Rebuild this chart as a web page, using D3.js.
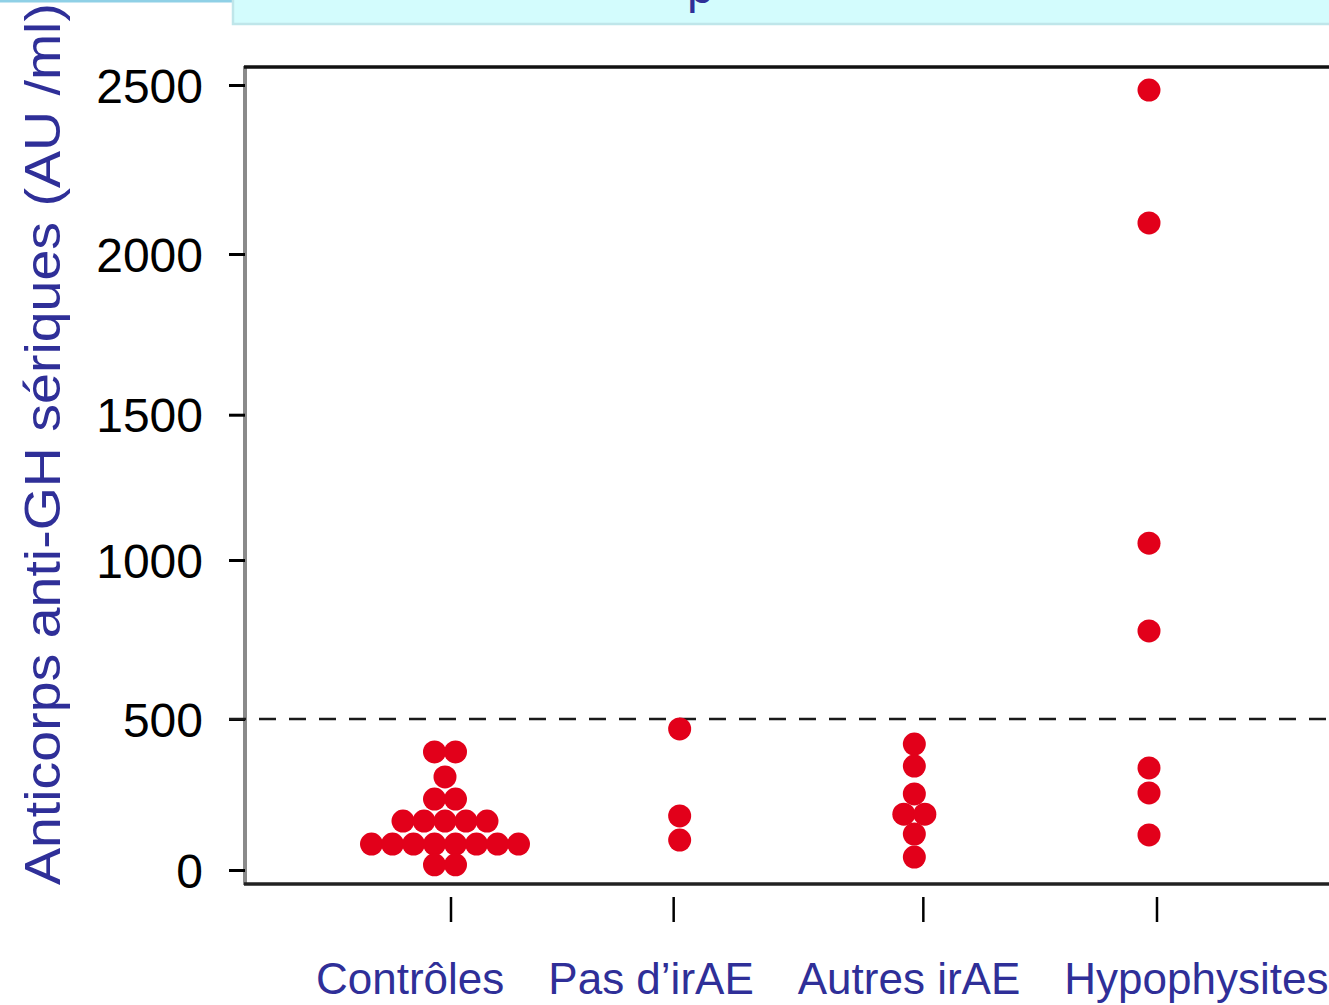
<!DOCTYPE html>
<html>
<head>
<meta charset="utf-8">
<script src="https://cdn.jsdelivr.net/npm/d3@7"></script>
<style>
  html, body { margin: 0; padding: 0; background: #fff; overflow: hidden; }
  svg { display: block; }
  text { font-family: "Liberation Sans", Arial, sans-serif; }
</style>
</head>
<body>
<svg id="chart" width="1329" height="1005"></svg>
<script>
// ---- data ----
const categories = ["Contrôles", "Pas d’irAE", "Autres irAE", "Hypophysites"];
const controlValues = [391, 391, 308, 235, 235, 162, 162, 162, 162, 162, 86, 86, 86, 86, 86, 86, 86, 86, 17, 17];
const noIrAEValues = [467, 179, 99];
const otherIrAEValues = [417, 344, 252, 185, 185, 119, 43];
const hypophysitisValues = [2485, 2092, 1058, 777, 338, 255, 116];
const yTickValues = [0, 500, 1000, 1500, 2000, 2500];
const thresholdValue = 500;
const yAxisTitle = "Anticorps anti-GH sériques (AU /ml)";
const titleFragment = "p";

const groups = [controlValues, noIrAEValues, otherIrAEValues, hypophysitisValues];

// ---- layout ----
const W = 1329, H = 1005;
const frame = { left: 245, right: 1329, top: 67, bottom: 884 };
const svg = d3.select("#chart");
const blue = "#2f2f98";
const red = "#e2001a";

// y scale (piecewise, follows the tick spacing of the original figure)
const y = d3.scaleLinear().domain(yTickValues).range([870, 719, 560, 414.7, 254, 85]);
// x scale for dot columns
const x = d3.scalePoint().domain(categories).range([445, 1149]);

// header band
svg.append("rect").attr("x", 0).attr("y", 0).attr("width", 233).attr("height", 2.5).attr("fill", "#8fd0e6");
svg.append("rect").attr("x", 233).attr("y", -2).attr("width", W - 233 + 2).attr("height", 26)
  .attr("fill", "#d3fcfd").attr("stroke", "#bfe6ea").attr("stroke-width", 2.5);
svg.append("text").attr("x", 687).attr("y", 3).attr("font-size", 48).attr("fill", blue).text(titleFragment);

// frame
svg.append("line").attr("x1", frame.left).attr("x2", frame.left).attr("y1", frame.top - 1).attr("y2", frame.bottom + 1)
  .attr("stroke", "#8a8a8a").attr("stroke-width", 4);
svg.append("line").attr("x1", frame.left - 1).attr("x2", frame.right).attr("y1", frame.top).attr("y2", frame.top)
  .attr("stroke", "#111").attr("stroke-width", 3.5);
svg.append("line").attr("x1", frame.left - 1).attr("x2", frame.right).attr("y1", frame.bottom).attr("y2", frame.bottom)
  .attr("stroke", "#222").attr("stroke-width", 3.5);

// y axis
const yAxis = d3.axisLeft(y).tickValues(yTickValues).tickSize(16).tickPadding(26).tickFormat(d3.format("d"));
const yg = svg.append("g").attr("transform", `translate(${frame.left},0)`).call(yAxis);
yg.select(".domain").remove();
yg.selectAll(".tick line").attr("stroke", "#000").attr("stroke-width", 3);
yg.selectAll(".tick text").attr("font-size", 48).attr("fill", "#000")
  .attr("font-family", "'Liberation Sans', Arial, sans-serif").attr("dy", "0.36em");

// x axis ticks (labels placed separately)
const xAxis = d3.axisBottom(x).tickSize(25).tickFormat("");
const xg = svg.append("g").attr("transform", `translate(0,${frame.bottom + 13})`).call(xAxis);
xg.select(".domain").remove();
xg.selectAll(".tick line").attr("stroke", "#000").attr("stroke-width", 2.5);
// ticks sit slightly offset from the dot columns in the original
const tickShift = [6, -6, 9, 8];
xg.selectAll(".tick").attr("transform", (d, i) => `translate(${x(d) + tickShift[i]},0)`);

// threshold line
svg.append("line").attr("x1", 229).attr("x2", W).attr("y1", y(thresholdValue)).attr("y2", y(thresholdValue))
  .attr("stroke", "#1a1a1a").attr("stroke-width", 2.5).attr("stroke-dasharray", "17,13");

// dots: equal values are spread horizontally, centred on the column
const spacing = 21;
const points = [];
groups.forEach((vals, gi) => {
  const byVal = d3.group(vals.map((v, i) => ({ v, i })), d => d.v);
  byVal.forEach(arr => {
    arr.forEach((p, k) => {
      points.push({ cat: categories[gi], v: p.v, off: (k - (arr.length - 1) / 2) * spacing });
    });
  });
});
svg.append("g").selectAll("circle").data(points).join("circle")
  .attr("cx", d => x(d.cat) + d.off)
  .attr("cy", d => y(d.v))
  .attr("r", 11.5)
  .attr("fill", red);

// category labels laid out left to right with a constant gap
const labelG = svg.append("g");
let cursor = 316;
categories.forEach(c => {
  const t = labelG.append("text").attr("x", cursor).attr("y", 994)
    .attr("font-size", 44).attr("fill", blue).text(c);
  cursor += t.node().getComputedTextLength() + 44;
});

// y axis title (stretched along its length like the original figure)
svg.append("text").attr("transform", "translate(60,885) rotate(-90) scale(1.11,1)")
  .attr("font-size", 50).attr("fill", blue).text(yAxisTitle);
</script>
</body>
</html>
